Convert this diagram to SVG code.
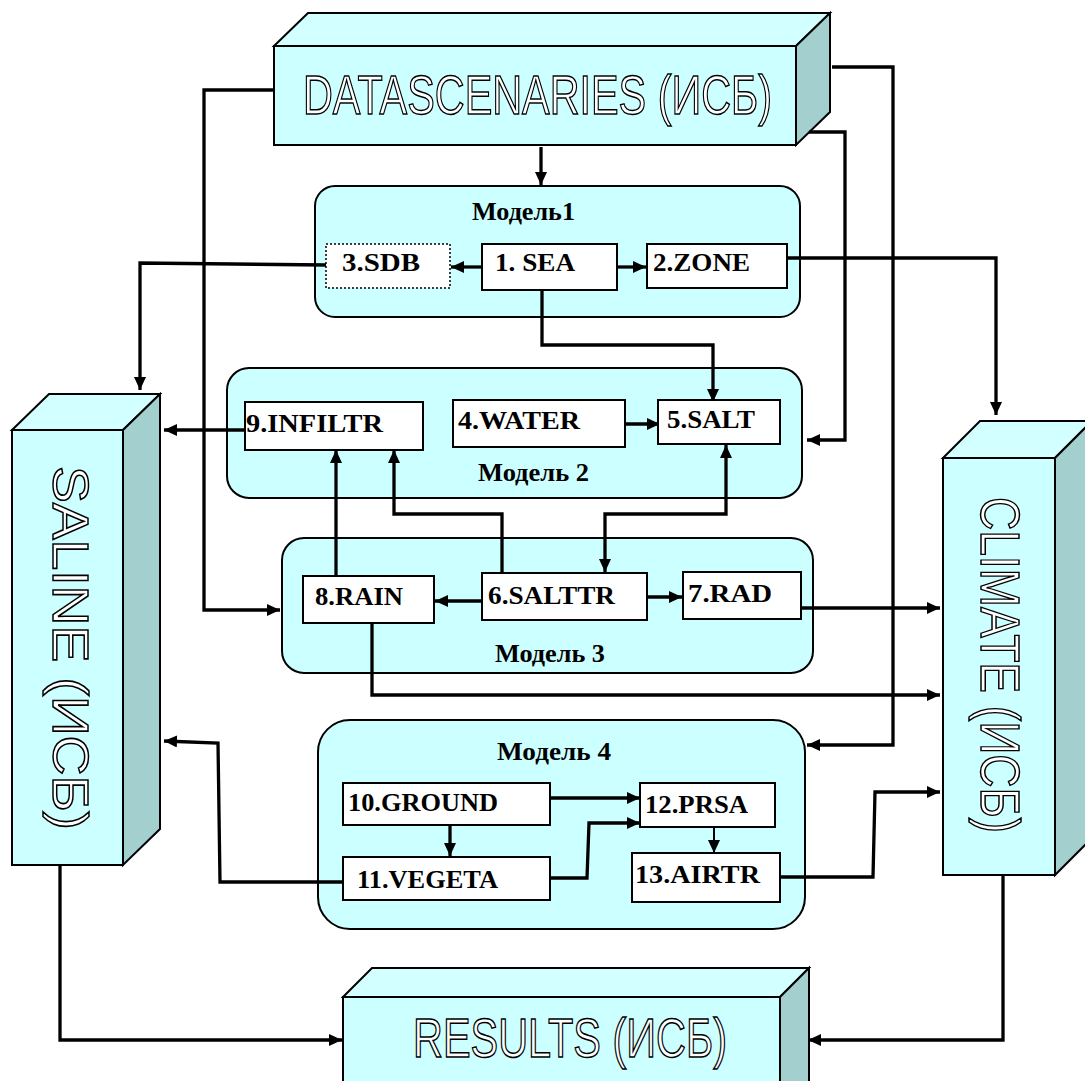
<svg xmlns="http://www.w3.org/2000/svg" width="1085" height="1081" viewBox="0 0 1085 1081">
<defs>
<marker id="ah" markerUnits="userSpaceOnUse" markerWidth="16" markerHeight="14" refX="13" refY="6" orient="auto">
<path d="M0,0 L13,6 L0,12 z" fill="#000"/>
</marker>
<marker id="ahs" markerUnits="userSpaceOnUse" markerWidth="16" markerHeight="14" refX="13" refY="6" orient="auto-start-reverse">
<path d="M0,0 L13,6 L0,12 z" fill="#000"/>
</marker>
</defs>
<style>
.front{fill:#ccffff;stroke:#000;stroke-width:2}
.top{fill:#d2ffff;stroke:#000;stroke-width:2}
.side{fill:#a3cfcf;stroke:#000;stroke-width:2}
.model{fill:#ccffff;stroke:#000;stroke-width:2}
.box{fill:#fff;stroke:#000;stroke-width:2}
.dotbox{fill:#fff;stroke:#000;stroke-width:1.5;stroke-dasharray:2 2}
.big{font-family:"Liberation Sans",Arial,sans-serif;fill:#fff;stroke:#000;stroke-width:1.5}
.lbl{font-family:"Liberation Serif","Times New Roman",serif;font-weight:bold;font-size:26px;fill:#000}
.conn path{fill:none;stroke:#000;stroke-width:3.3;stroke-linejoin:miter}
</style>
<rect width="1085" height="1081" fill="#fff"/>

<g id="datascenaries">
<polygon class="top" points="274,46 308,13 830,13 796,46"/>
<polygon class="side" points="796,46 830,13 830,112 796,145"/>
<rect class="front" x="274" y="46" width="522" height="99"/>
<text class="big" x="303" y="114" font-size="56" textLength="469" lengthAdjust="spacingAndGlyphs">DATASCENARIES (ИСБ)</text>
</g>

<g id="saline">
<polygon class="top" points="12,430 49,394 160,394 123,430"/>
<polygon class="side" points="123,430 160,394 160,829 123,865"/>
<rect class="front" x="12" y="430" width="111" height="435"/>
<text class="big" transform="translate(53,466) rotate(90)" x="0" y="0" font-size="50" textLength="364" lengthAdjust="spacingAndGlyphs">SALINE (ИСБ)</text>
</g>

<g id="climate">
<polygon class="top" points="943,458 980,421 1092,421 1055,458"/>
<polygon class="side" points="1055,458 1092,421 1092,838 1055,875"/>
<rect class="front" x="943" y="458" width="112" height="417"/>
<text class="big" transform="translate(981,497) rotate(90)" x="0" y="0" font-size="56" textLength="336" lengthAdjust="spacingAndGlyphs">CLIMATE (ИСБ)</text>
</g>

<g id="results">
<polygon class="top" points="343,997 372,968 809,968 780,997"/>
<polygon class="side" points="780,997 809,968 809,1090 780,1090"/>
<rect class="front" x="343" y="997" width="437" height="100"/>
<text class="big" x="413" y="1057" font-size="55" textLength="314" lengthAdjust="spacingAndGlyphs">RESULTS (ИСБ)</text>
</g>

<g id="model1">
<rect class="model" x="315" y="186" width="485" height="131" rx="20"/>
<text class="lbl" x="472" y="220" font-size="24" textLength="103" lengthAdjust="spacingAndGlyphs">Модель1</text>
</g>
<g id="model2">
<rect class="model" x="227" y="368" width="575" height="130" rx="22"/>
<text class="lbl" x="478" y="481" font-size="24" textLength="111" lengthAdjust="spacingAndGlyphs">Модель 2</text>
</g>
<g id="model3">
<rect class="model" x="282" y="538" width="531" height="135" rx="22"/>
<text class="lbl" x="495" y="662" font-size="24" textLength="110" lengthAdjust="spacingAndGlyphs">Модель 3</text>
</g>
<g id="model4">
<rect class="model" x="318" y="720" width="487" height="209" rx="32"/>
<text class="lbl" x="497" y="760" font-size="24" textLength="114" lengthAdjust="spacingAndGlyphs">Модель 4</text>
</g>

<g id="connectors" class="conn">
<path d="M541,147 L541,185" marker-end="url(#ah)"/>
<path d="M274,90 L204,90 L204,610 L280,610" marker-end="url(#ah)"/>
<path d="M832,67 L893,67 L893,745 L807,745" marker-end="url(#ah)"/>
<path d="M809,132 L845,132 L845,440 L807,440" marker-end="url(#ah)"/>
<path d="M482,267 L451,267" marker-end="url(#ah)"/>
<path d="M617,267 L646,267" marker-end="url(#ah)"/>
<path d="M326,265 L140,263 L140,390" marker-end="url(#ah)"/>
<path d="M787,258 L996,258 L996,415" marker-end="url(#ah)"/>
<path d="M542,290 L542,345 L713,345 L713,402" marker-end="url(#ah)"/>
<path d="M625,424 L660,424" marker-end="url(#ah)"/>
<path d="M245,430 L164,430" marker-end="url(#ah)"/>
<path d="M336,576 L336,450" marker-end="url(#ah)"/>
<path d="M502,573 L502,514 L394,514 L394,450" marker-end="url(#ah)"/>
<path d="M605,572 L605,514 L726,514 L726,445" marker-start="url(#ahs)" marker-end="url(#ah)"/>
<path d="M482,601 L435,601" marker-end="url(#ah)"/>
<path d="M647,597 L682,597" marker-end="url(#ah)"/>
<path d="M801,608 L940,608" marker-end="url(#ah)"/>
<path d="M372,623 L372,695 L940,695" marker-end="url(#ah)"/>
<path d="M550,798 L640,798" marker-end="url(#ah)"/>
<path d="M450,825 L450,856" marker-end="url(#ah)"/>
<path d="M550,878 L587,878 L589,823 L640,823" marker-end="url(#ah)"/>
<path d="M714,827 L714,853" style="stroke-width:2" marker-end="url(#ah)"/>
<path d="M780,877 L873,877 L875,792 L940,792" marker-end="url(#ah)"/>
<path d="M343,882 L220,882 L218,743 L164,741" marker-end="url(#ah)"/>
<path d="M60,865 L60,1040 L342,1040" marker-end="url(#ah)"/>
<path d="M1003,875 L1003,1040 L808,1040" marker-end="url(#ah)"/>
</g>

<g id="n3"><rect class="dotbox" x="326" y="244" width="124" height="44"/><text class="lbl" x="342" y="271" font-size="27" textLength="78" lengthAdjust="spacingAndGlyphs">3.SDB</text></g>
<g id="n1"><rect class="box" x="482" y="244" width="135" height="46"/><text class="lbl" x="495" y="271" font-size="27" textLength="80" lengthAdjust="spacingAndGlyphs">1. SEA</text></g>
<g id="n2"><rect class="box" x="647" y="244" width="140" height="44"/><text class="lbl" x="653" y="271" font-size="27" textLength="97" lengthAdjust="spacingAndGlyphs">2.ZONE</text></g>
<g id="n9"><rect class="box" x="245" y="402" width="178" height="48"/><text class="lbl" x="246" y="432" textLength="137" lengthAdjust="spacingAndGlyphs">9.INFILTR</text></g>
<g id="n4"><rect class="box" x="453" y="400" width="172" height="47"/><text class="lbl" x="458" y="429" textLength="122" lengthAdjust="spacingAndGlyphs">4.WATER</text></g>
<g id="n5"><rect class="box" x="658" y="400" width="122" height="44"/><text class="lbl" x="667" y="428" textLength="88" lengthAdjust="spacingAndGlyphs">5.SALT</text></g>
<g id="n8"><rect class="box" x="303" y="576" width="131" height="47"/><text class="lbl" x="315" y="605" textLength="88" lengthAdjust="spacingAndGlyphs">8.RAIN</text></g>
<g id="n6"><rect class="box" x="482" y="573" width="165" height="47"/><text class="lbl" x="488" y="604" textLength="127" lengthAdjust="spacingAndGlyphs">6.SALTTR</text></g>
<g id="n7"><rect class="box" x="683" y="572" width="118" height="47"/><text class="lbl" x="688" y="602" textLength="84" lengthAdjust="spacingAndGlyphs">7.RAD</text></g>
<g id="n10"><rect class="box" x="343" y="783" width="207" height="42"/><text class="lbl" x="348" y="811" textLength="150" lengthAdjust="spacingAndGlyphs">10.GROUND</text></g>
<g id="n11"><rect class="box" x="343" y="857" width="207" height="43"/><text class="lbl" x="357" y="888" textLength="141" lengthAdjust="spacingAndGlyphs">11.VEGETA</text></g>
<g id="n12"><rect class="box" x="640" y="783" width="135" height="44"/><text class="lbl" x="645" y="813" textLength="103" lengthAdjust="spacingAndGlyphs">12.PRSA</text></g>
<g id="n13"><rect class="box" x="632" y="853" width="148" height="49"/><text class="lbl" x="635" y="883" textLength="125" lengthAdjust="spacingAndGlyphs">13.AIRTR</text></g>
</svg>
